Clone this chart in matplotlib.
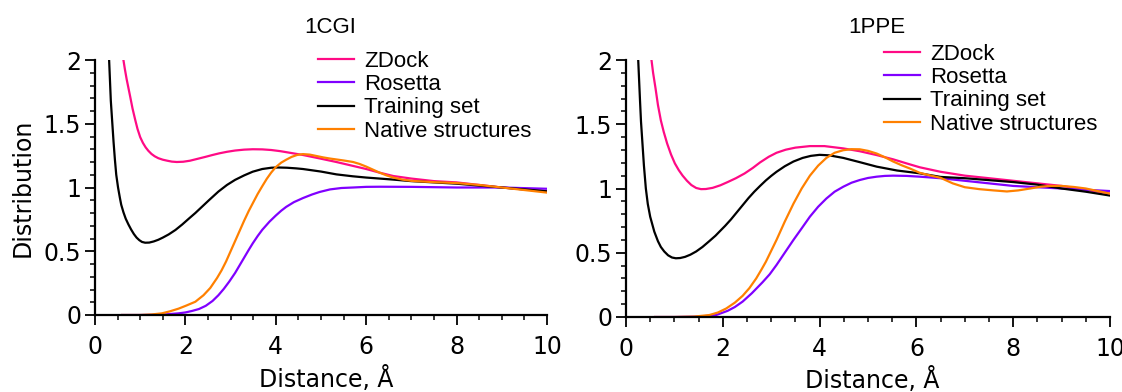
import matplotlib
matplotlib.use("Agg")
import matplotlib.pyplot as plt
from matplotlib.ticker import MultipleLocator

# ---------------- data ----------------
titles = ["1CGI", "1PPE"]
series_names = ["ZDock", "Rosetta", "Training set", "Native structures"]
series_colors = ["#ff0a85", "#8000ff", "#000000", "#ff8000"]

# 1CGI
cgi_zdock_x = [0.62, 0.66, 0.70, 0.74, 0.78, 0.83, 0.89, 0.94, 1.00, 1.06, 1.12, 1.18, 1.25, 1.32, 1.40, 1.50, 1.60, 1.70, 1.81, 1.95, 2.10, 2.27, 2.44, 2.60, 2.75, 2.92, 3.10, 3.30, 3.49, 3.70, 3.90, 4.10, 4.30, 4.60, 4.97, 5.34, 5.70, 6.00, 6.30, 6.60, 7.00, 7.50, 8.00, 8.50, 9.00, 9.50, 10.0]
cgi_zdock_y = [2.02, 1.93, 1.85, 1.78, 1.71, 1.62, 1.53, 1.46, 1.395, 1.35, 1.315, 1.288, 1.263, 1.245, 1.23, 1.218, 1.21, 1.203, 1.20, 1.202, 1.21, 1.225, 1.24, 1.255, 1.268, 1.28, 1.29, 1.297, 1.30, 1.299, 1.294, 1.285, 1.273, 1.255, 1.228, 1.20, 1.17, 1.145, 1.116, 1.09, 1.07, 1.05, 1.04, 1.02, 1.00, 0.985, 0.97]

cgi_rosetta_x = [0.60, 1.00, 1.50, 1.85, 2.00, 2.15, 2.30, 2.45, 2.60, 2.73, 2.85, 2.97, 3.10, 3.20, 3.30, 3.40, 3.49, 3.60, 3.70, 3.86, 4.00, 4.12, 4.23, 4.40, 4.60, 4.80, 4.97, 5.20, 5.45, 5.71, 6.00, 6.30, 7.00, 8.00, 9.00, 10.0]
cgi_rosetta_y = [0.0, 0.0, 0.003, 0.013, 0.02, 0.032, 0.047, 0.072, 0.11, 0.155, 0.205, 0.262, 0.33, 0.39, 0.45, 0.51, 0.562, 0.62, 0.668, 0.732, 0.78, 0.818, 0.848, 0.885, 0.917, 0.945, 0.965, 0.985, 0.996, 1.0, 1.005, 1.006, 1.005, 1.0, 1.0, 0.99]

cgi_train_x = [0.31, 0.33, 0.35, 0.38, 0.41, 0.44, 0.47, 0.51, 0.55, 0.58, 0.63, 0.68, 0.74, 0.80, 0.86, 0.92, 0.98, 1.04, 1.11, 1.20, 1.30, 1.40, 1.50, 1.63, 1.78, 1.93, 2.08, 2.22, 2.37, 2.52, 2.73, 2.92, 3.10, 3.30, 3.49, 3.70, 3.90, 4.05, 4.25, 4.45, 4.60, 4.80, 5.00, 5.34, 5.70, 6.00, 6.30, 6.60, 7.00, 7.50, 8.00, 8.50, 9.00, 9.50, 10.0]
cgi_train_y = [2.02, 1.85, 1.68, 1.52, 1.36, 1.22, 1.10, 1.00, 0.92, 0.865, 0.805, 0.755, 0.71, 0.67, 0.635, 0.607, 0.587, 0.573, 0.567, 0.568, 0.577, 0.59, 0.607, 0.632, 0.667, 0.71, 0.757, 0.80, 0.85, 0.90, 0.968, 1.02, 1.06, 1.095, 1.124, 1.145, 1.155, 1.157, 1.155, 1.15, 1.145, 1.135, 1.125, 1.103, 1.088, 1.078, 1.07, 1.062, 1.05, 1.04, 1.03, 1.015, 1.00, 0.985, 0.97]

cgi_native_x = [0.60, 1.00, 1.25, 1.48, 1.65, 1.85, 2.02, 2.22, 2.40, 2.55, 2.70, 2.80, 2.90, 3.00, 3.10, 3.20, 3.30, 3.40, 3.49, 3.60, 3.70, 3.80, 3.90, 4.00, 4.12, 4.23, 4.35, 4.47, 4.60, 4.75, 4.90, 5.05, 5.20, 5.34, 5.50, 5.71, 5.85, 6.00, 6.15, 6.30, 6.45, 6.60, 6.80, 7.00, 7.50, 8.00, 8.50, 9.00, 9.50, 10.0]
cgi_native_y = [0.0, 0.0, 0.004, 0.013, 0.028, 0.05, 0.074, 0.104, 0.155, 0.212, 0.29, 0.35, 0.42, 0.50, 0.58, 0.66, 0.74, 0.815, 0.876, 0.95, 1.01, 1.068, 1.118, 1.16, 1.195, 1.218, 1.24, 1.255, 1.262, 1.258, 1.247, 1.236, 1.227, 1.22, 1.212, 1.20, 1.185, 1.164, 1.14, 1.116, 1.095, 1.078, 1.062, 1.052, 1.042, 1.035, 1.02, 1.00, 0.98, 0.96]

# 1PPE
ppe_zdock_x = [0.52, 0.56, 0.61, 0.66, 0.72, 0.78, 0.85, 0.93, 1.01, 1.09, 1.17, 1.26, 1.35, 1.45, 1.55, 1.65, 1.79, 1.95, 2.10, 2.27, 2.45, 2.62, 2.77, 2.95, 3.11, 3.30, 3.50, 3.80, 4.10, 4.49, 4.83, 5.18, 5.52, 5.80, 6.07, 6.50, 7.00, 7.50, 8.00, 8.50, 9.00, 9.50, 10.0]
ppe_zdock_y = [2.02, 1.90, 1.78, 1.65, 1.53, 1.44, 1.35, 1.265, 1.195, 1.143, 1.10, 1.06, 1.027, 1.004, 0.995, 0.996, 1.005, 1.025, 1.05, 1.08, 1.117, 1.16, 1.203, 1.247, 1.278, 1.302, 1.318, 1.33, 1.33, 1.312, 1.29, 1.26, 1.227, 1.195, 1.165, 1.13, 1.10, 1.08, 1.06, 1.04, 1.02, 0.99, 0.96]

ppe_rosetta_x = [0.60, 1.00, 1.50, 1.86, 2.10, 2.25, 2.41, 2.60, 2.82, 2.97, 3.11, 3.28, 3.46, 3.63, 3.80, 3.97, 4.14, 4.31, 4.49, 4.66, 4.83, 5.00, 5.18, 5.35, 5.52, 5.80, 6.07, 6.50, 7.00, 7.50, 8.00, 8.50, 9.00, 9.50, 10.0]
ppe_rosetta_y = [0.0, 0.0, 0.003, 0.015, 0.048, 0.078, 0.12, 0.185, 0.27, 0.333, 0.405, 0.50, 0.60, 0.69, 0.781, 0.858, 0.922, 0.975, 1.014, 1.045, 1.066, 1.082, 1.092, 1.098, 1.10, 1.098, 1.092, 1.08, 1.06, 1.04, 1.02, 1.01, 1.00, 0.99, 0.98]

ppe_train_x = [0.25, 0.27, 0.29, 0.31, 0.34, 0.37, 0.41, 0.45, 0.50, 0.585, 0.66, 0.72, 0.79, 0.87, 0.95, 1.03, 1.12, 1.22, 1.33, 1.45, 1.58, 1.72, 1.85, 1.93, 2.05, 2.17, 2.29, 2.41, 2.53, 2.65, 2.77, 2.89, 3.00, 3.11, 3.28, 3.46, 3.65, 3.82, 4.00, 4.20, 4.49, 4.83, 5.18, 5.60, 6.07, 6.50, 7.00, 7.50, 8.00, 8.50, 9.00, 9.50, 10.0]
ppe_train_y = [2.02, 1.85, 1.68, 1.52, 1.35, 1.18, 1.00, 0.88, 0.78, 0.664, 0.59, 0.545, 0.51, 0.48, 0.463, 0.457, 0.459, 0.468, 0.485, 0.51, 0.545, 0.59, 0.633, 0.664, 0.71, 0.76, 0.815, 0.87, 0.925, 0.975, 1.02, 1.063, 1.098, 1.13, 1.173, 1.21, 1.238, 1.254, 1.262, 1.258, 1.238, 1.205, 1.17, 1.14, 1.118, 1.09, 1.08, 1.065, 1.05, 1.03, 1.00, 0.975, 0.945]

ppe_native_x = [0.60, 1.00, 1.40, 1.72, 1.90, 2.07, 2.25, 2.41, 2.55, 2.69, 2.80, 2.89, 3.00, 3.11, 3.28, 3.46, 3.63, 3.80, 3.97, 4.14, 4.31, 4.49, 4.66, 4.83, 5.00, 5.18, 5.35, 5.52, 5.70, 5.87, 6.07, 6.30, 6.50, 6.75, 7.00, 7.30, 7.60, 7.87, 8.10, 8.35, 8.55, 8.75, 9.00, 9.25, 9.50, 9.75, 10.0]
ppe_native_y = [0.0, 0.0, 0.003, 0.015, 0.035, 0.066, 0.112, 0.165, 0.225, 0.30, 0.37, 0.43, 0.515, 0.60, 0.742, 0.882, 1.00, 1.10, 1.178, 1.238, 1.278, 1.298, 1.306, 1.305, 1.293, 1.272, 1.243, 1.21, 1.18, 1.155, 1.122, 1.10, 1.083, 1.04, 1.01, 0.995, 0.985, 0.977, 0.985, 1.00, 1.013, 1.02, 1.02, 1.012, 1.00, 0.98, 0.96]

panel_data = [
    [(cgi_zdock_x, cgi_zdock_y), (cgi_rosetta_x, cgi_rosetta_y),
     (cgi_train_x, cgi_train_y), (cgi_native_x, cgi_native_y)],
    [(ppe_zdock_x, ppe_zdock_y), (ppe_rosetta_x, ppe_rosetta_y),
     (ppe_train_x, ppe_train_y), (ppe_native_x, ppe_native_y)],
]

x_label = "Distance, Å"
y_label = "Distribution"

# ---------------- figure ----------------
W, H = 1122, 392
fig = plt.figure(figsize=(W / 100, H / 100), dpi=100)

tick_font = "DejaVu Sans"
leg_font = "Liberation Sans"

axes_px = [(95, 60, 547, 315), (626, 60, 1110, 317)]
legend_px = [(318, 51), (884, 44)]
title_px = [(330, 33), (877, 33)]
xlabel_px = [(326.5, 387), (872.5, 388)]

for i, (l, t, r, b) in enumerate(axes_px):
    ax = fig.add_axes([l / W, 1 - b / H, (r - l) / W, (b - t) / H])
    for (xs, ys), name, col in zip(panel_data[i], series_names, series_colors):
        ax.plot(xs, ys, color=col, lw=1.6, label=name)
    ax.set_xlim(0, 10)
    ax.set_ylim(0, 2)
    ax.spines["top"].set_visible(False)
    ax.spines["right"].set_visible(False)
    for s in ("left", "bottom"):
        ax.spines[s].set_linewidth(1.6)
    ax.xaxis.set_major_locator(MultipleLocator(2))
    ax.xaxis.set_minor_locator(MultipleLocator(0.5))
    ax.yaxis.set_minor_locator(MultipleLocator(0.1))
    ax.set_yticks([0, 0.5, 1, 1.5, 2])
    ax.set_yticklabels(["0", "0.5", "1", "1.5", "2"])
    ax.tick_params(axis="both", which="major", length=7.5, width=1.3,
                   labelsize=17, direction="out")
    ax.tick_params(axis="both", which="minor", length=3.8, width=1.1,
                   direction="out")
    ax.tick_params(axis="x", which="major", pad=7)
    ax.tick_params(axis="y", which="major", pad=2.5)
    for lab in ax.get_xticklabels() + ax.get_yticklabels():
        lab.set_fontfamily(tick_font)
    ax.set_xlabel(x_label, fontsize=17, fontfamily=tick_font, va="baseline")
    xl, yl = xlabel_px[i]
    ax.xaxis.set_label_coords((xl - l) / (r - l), -(yl - b) / (b - t))
    if i == 0:
        ax.set_ylabel(y_label, fontsize=17, fontfamily=tick_font, va="center")
        ax.yaxis.set_label_coords((23 - l) / (r - l), 0.5)
    tx, ty = title_px[i]
    fig.text(tx / W, 1 - ty / H, titles[i], ha="center", va="baseline",
             fontsize=16, fontfamily=leg_font)
    lx, ly = legend_px[i]
    ax.legend(loc="upper left", bbox_to_anchor=(lx / W, 1 - ly / H),
              bbox_transform=fig.transFigure, frameon=False,
              prop={"family": leg_font, "size": 16},
              handlelength=1.62, handletextpad=0.45, labelspacing=0.1,
              borderpad=0, borderaxespad=0)

fig.savefig("out.png", dpi=100)
